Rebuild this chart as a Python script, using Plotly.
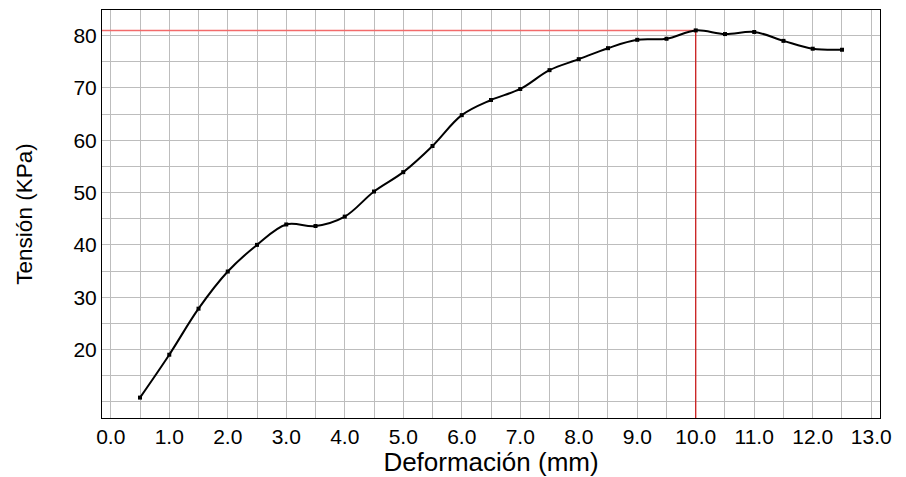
import plotly.graph_objects as go

deformacion = [0.5, 1.0, 1.5, 2.0, 2.5, 3.0, 3.5, 4.0, 4.5, 5.0, 5.5, 6.0, 6.5,
               7.0, 7.5, 8.0, 8.5, 9.0, 9.5, 10.0, 10.5, 11.0, 11.5, 12.0, 12.5]
tension = [10.8, 19.0, 27.8, 34.9, 40.0, 43.9, 43.6, 45.4, 50.2, 53.9, 58.9, 64.8, 67.7,
           69.8, 73.4, 75.5, 77.6, 79.2, 79.4, 81.0, 80.3, 80.7, 79.0, 77.5, 77.3]
x_ticks = [0, 1, 2, 3, 4, 5, 6, 7, 8, 9, 10, 11, 12, 13]
x_tick_labels = [f"{v:.1f}" for v in x_ticks]
y_ticks = [20, 30, 40, 50, 60, 70, 80]
x_range = [-0.15, 13.15]
y_range = [6.9, 84.9]

i_peak = tension.index(max(tension))
peak_x = deformacion[i_peak]
peak_y = tension[i_peak]

FONT = "Liberation Sans, Arial, sans-serif"
GRID = "#bdbdbd"

fig = go.Figure()
fig.add_trace(go.Scatter(
    x=[x_range[0], peak_x], y=[peak_y, peak_y], mode="lines",
    line=dict(color="#f26b6b", width=1.5), hoverinfo="skip", showlegend=False))
fig.add_trace(go.Scatter(
    x=[peak_x, peak_x], y=[peak_y, y_range[0]], mode="lines",
    line=dict(color="#cc1111", width=1.2), hoverinfo="skip", showlegend=False))
fig.add_trace(go.Scatter(
    x=deformacion, y=tension, mode="lines+markers",
    line=dict(color="black", width=2, shape="spline", smoothing=1),
    marker=dict(symbol="square", size=4, color="black"),
    showlegend=False))

fig.update_layout(
    width=906, height=477,
    margin=dict(l=102, r=26, t=10, b=59, autoexpand=False),
    paper_bgcolor="white", plot_bgcolor="white",
    font=dict(family=FONT, color="black"),
)
fig.update_xaxes(
    range=x_range, tickvals=x_ticks, ticktext=x_tick_labels, automargin=False,
    tickfont=dict(size=21), showgrid=True, gridcolor=GRID, gridwidth=1,
    minor=dict(dtick=0.5, tick0=0, showgrid=True, gridcolor=GRID, gridwidth=1),
    showline=True, linecolor="black", linewidth=1, mirror=True, zeroline=False,
    ticks="", title=dict(text="Deformación (mm)", font=dict(size=26), standoff=4),
)
fig.update_yaxes(
    range=y_range, tickvals=y_ticks, automargin=False,
    tickfont=dict(size=21), showgrid=True, gridcolor=GRID, gridwidth=1,
    minor=dict(dtick=5, tick0=0, showgrid=True, gridcolor=GRID, gridwidth=1),
    showline=True, linecolor="black", linewidth=1, mirror=True, zeroline=False,
    ticks="", title=dict(text="Tensión (KPa)", font=dict(size=22.5), standoff=34),
)

fig.write_html(
    "out.html",
    config={"displayModeBar": False},
    post_script="document.body.style.margin='0';document.body.style.overflow='hidden';",
)
